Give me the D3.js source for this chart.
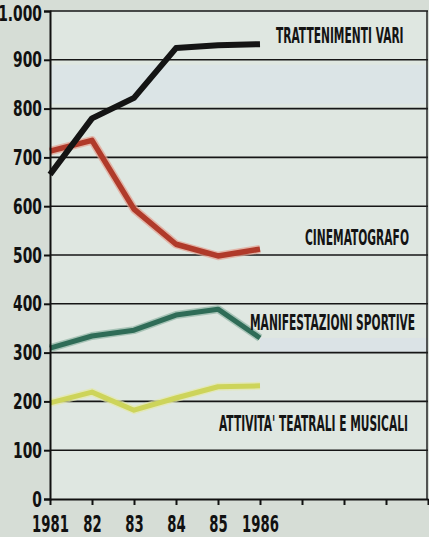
<!DOCTYPE html>
<html>
<head>
<meta charset="utf-8">
<script src="https://d3js.org/d3.v7.min.js"></script>
<style>
  html, body { margin: 0; padding: 0; background: #d6ddd6; }
  svg { display: block; }
</style>
</head>
<body>
<div id="chart"></div>
<script>
    const years = [1981, 1982, 1983, 1984, 1985, 1986];
    const yearLabels = ["1981", "82", "83", "84", "85", "1986"];
    const yTicks = [0, 100, 200, 300, 400, 500, 600, 700, 800, 900, 1000];
    const yTickLabels = ["0", "100", "200", "300", "400", "500", "600", "700", "800", "900", "1.000"];

    const trattenimenti = [665, 780, 822, 924, 930, 932];
    const cinema = [713, 735, 594, 522, 498, 512];
    const sport = [309, 334, 346, 377, 389, 330];
    const teatro = [197, 219, 182, 207, 230, 232];

    const series = [
        { name: "TRATTENIMENTI VARI", values: trattenimenti, color: "#141414", halo: null, width: 6, lx: 276, ly: 43 },
        { name: "CINEMATOGRAFO", values: cinema, color: "#b03a2a", halo: "#e3a090", width: 5.5, lx: 305, ly: 245 },
        { name: "MANIFESTAZIONI SPORTIVE", values: sport, color: "#2f6c57", halo: "#8fb3a4", width: 5, lx: 250, ly: 330 },
        { name: "ATTIVITA' TEATRALI E MUSICALI", values: teatro, color: "#cdd45a", halo: "#e4e8a8", width: 5, lx: 219, ly: 431 }
    ];

    const W = 429, H = 537;
    const svg = d3.select("#chart").append("svg")
        .attr("width", W)
        .attr("height", H);

    const x = d3.scaleLinear().domain([1981, 1990]).range([50, 428]);
    const y = d3.scaleLinear().domain([0, 1000]).range([499, 11]);

    // background of plot area
    svg.append("rect")
        .attr("x", x(1981)).attr("y", y(1000))
        .attr("width", x(1990) - x(1981)).attr("height", y(0) - y(1000))
        .attr("fill", "#dfe7e1");
    // pale bluish bands as in the print
    svg.append("rect")
        .attr("x", x(1981)).attr("y", y(890))
        .attr("width", x(1990) - x(1981)).attr("height", y(810) - y(890))
        .attr("fill", "#dbe4e6");
    svg.append("rect")
        .attr("x", x(1986)).attr("y", y(330))
        .attr("width", x(1990) - x(1986)).attr("height", y(300) - y(330))
        .attr("fill", "#dbe3e6");

    // grid lines
    svg.append("g")
        .selectAll("line")
        .data(yTicks.slice(1))
        .join("line")
        .attr("x1", x(1981)).attr("x2", x(1990))
        .attr("y1", d => y(d)).attr("y2", d => y(d))
        .attr("stroke", "#161616")
        .attr("stroke-width", 1.6);

    // right border
    svg.append("line")
        .attr("x1", x(1990) - 1).attr("x2", x(1990) - 1)
        .attr("y1", y(1000)).attr("y2", y(0))
        .attr("stroke", "#222").attr("stroke-width", 1.5);

    // lines
    const line = d3.line()
        .x((d, i) => x(years[i]))
        .y(d => y(d));

    const lineG = svg.append("g");
    series.slice().reverse().forEach(s => {
        if (s.halo) {
            lineG.append("path")
                .attr("d", line(s.values))
                .attr("fill", "none")
                .attr("stroke", s.halo)
                .attr("stroke-width", s.width + 3)
                .attr("stroke-linejoin", "round")
                .attr("opacity", 0.7);
        }
        lineG.append("path")
            .attr("d", line(s.values))
            .attr("fill", "none")
            .attr("stroke", s.color)
            .attr("stroke-width", s.width)
            .attr("stroke-linejoin", "round");
    });

    // axes
    const font = "'Liberation Sans Narrow', 'DejaVu Sans Condensed', sans-serif";

    const yAxis = d3.axisLeft(y)
        .tickValues(yTicks)
        .tickSize(6)
        .tickFormat((d, i) => yTickLabels[i]);
    const yg = svg.append("g")
        .attr("transform", `translate(${x(1981)},0)`)
        .call(yAxis);
    yg.select(".domain").attr("stroke", "#111").attr("stroke-width", 2);
    yg.selectAll(".tick line").attr("stroke", "#111").attr("stroke-width", 2);
    yg.selectAll(".tick text")
        .attr("x", null)
        .attr("dy", null)
        .attr("transform", d => `translate(-8,${d === 1000 ? 9 : 7}) scale(0.7,1)`)
        .attr("font-family", font)
        .attr("font-weight", "bold")
        .attr("font-size", 22)
        .attr("fill", "#111");

    const xAxis = d3.axisBottom(x)
        .tickValues(d3.range(1981, 1991))
        .tickSize(6)
        .tickSizeOuter(0)
        .tickFormat(d => {
            const i = years.indexOf(d);
            return i >= 0 ? yearLabels[i] : "";
        });
    const xg = svg.append("g")
        .attr("transform", `translate(0,${y(0)})`)
        .call(xAxis);
    xg.select(".domain").attr("stroke", "#111").attr("stroke-width", 2);
    xg.selectAll(".tick line").attr("stroke", "#111").attr("stroke-width", 2);
    xg.selectAll(".tick text")
        .attr("y", null)
        .attr("dy", null)
        .attr("transform", "translate(0,33) scale(0.64,1)")
        .attr("font-family", font)
        .attr("font-weight", "bold")
        .attr("font-size", 23)
        .attr("fill", "#111");

    // series labels
    svg.append("g")
        .selectAll("text")
        .data(series)
        .join("text")
        .attr("transform", d => `translate(${d.lx},${d.ly}) scale(0.54,1)`)
        .attr("font-family", font)
        .attr("font-weight", "bold")
        .attr("font-size", 22)
        .attr("fill", "#141414")
        .text(d => d.name);
</script>
</body>
</html>
